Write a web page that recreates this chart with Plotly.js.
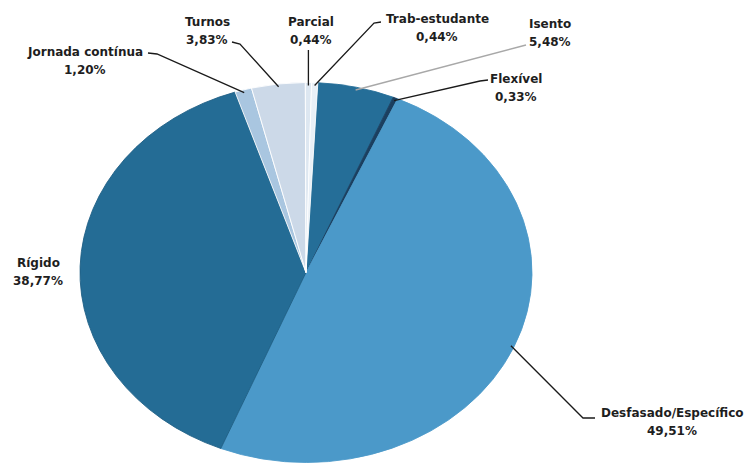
<!DOCTYPE html>
<html>
<head>
<meta charset="utf-8">
<script src="https://cdn.plot.ly/plotly-3.0.1.min.js"></script>
<style>
  html, body { margin: 0; padding: 0; background: #ffffff; }
  #wrap { position: relative; width: 747px; height: 463px; overflow: hidden; }
  #pie { position: absolute; left: 0; top: 0; transform-origin: 0 0; }
  #labels { position: absolute; left: 0; top: 0; }
</style>
</head>
<body>
<div id="wrap">
  <div id="pie"></div>
  <div id="labels"></div>
</div>
<script>
// ---- data (clockwise from just right of 12 o'clock) ----
const categories = ["Isento", "Flexível", "Desfasado/Específico", "Rígido",
                    "Jornada contínua", "Turnos", "Parcial", "Trab-estudante"];
const shares = [5.48, 0.33, 49.51, 38.77, 1.20, 3.83, 0.44, 0.44];
const colors = ["#256e98", "#1b3f5f", "#4b99c9", "#246c95",
                "#a9c6e0", "#ccd9e8", "#dde7f1", "#e9f0f7"];
const borderColors = ["#256e98", "#1b3f5f", "#4b99c9", "#1f5f85",
                      "#ffffff", "#ffffff", "#ffffff", "#ffffff"];

// ---- geometry of the (elliptical) pie on the page ----
const W = 747, H = 463;
const CX = 306, CY = 272.5, RX = 226, RY = 190;
const SX = RX / RY;             // horizontal stretch
const START = 3;                // degrees clockwise from 12 o'clock

// pie layer: drawn circular then stretched horizontally
const W1 = Math.round(W / SX);
const cx1 = CX / SX;
const pieDiv = document.getElementById('pie');
pieDiv.style.width = W1 + 'px';
pieDiv.style.height = H + 'px';
pieDiv.style.transform = 'scaleX(' + SX + ')';

Plotly.newPlot(pieDiv, [{
  type: 'pie',
  labels: categories,
  values: shares,
  sort: false,
  direction: 'clockwise',
  rotation: START,
  textinfo: 'none',
  hoverinfo: 'none',
  marker: { colors: colors, line: { color: borderColors, width: 0.8 } },
  domain: { x: [(cx1 - RY) / W1, (cx1 + RY) / W1], y: [(H - CY - RY) / H, (H - CY + RY) / H] }
}], {
  width: W1, height: H,
  margin: { l: 0, r: 0, t: 0, b: 0 },
  showlegend: false,
  paper_bgcolor: 'rgba(0,0,0,0)'
}, { staticPlot: true });

// ---- label layer ----
const total = shares.reduce((a, b) => a + b, 0);
const mids = [];
let acc = START;
shares.forEach(v => { const span = v / total * 360; mids.push(acc + span / 2); acc += span; });
function edge(i, f) {
  const a = mids[i] * Math.PI / 180;
  return [CX + f * RX * Math.sin(a), CY - f * RY * Math.cos(a)];
}
function pct(v) { return v.toFixed(2).replace('.', ',') + '%'; }

// label positions (name line) and leader start/elbow points, per category
const labelPos = [[550, 24], [516, 79], [672, 413], [38, 263], [85, 52], [207, 22], [311, 22], [437, 19]];
const leaderPts = [
  [[526, 45]],
  [[488, 80], [480, 81]],
  [[595, 418], [583, 418]],
  null,
  [[148, 53], [157, 54]],
  [[232, 42], [240, 44]],
  null,
  [[381, 22], [374, 23]]
];
const leaderColor = ["#a8a8a8", "#1a1a1a", "#1a1a1a", null, "#1a1a1a", "#1a1a1a", "#1a1a1a", "#1a1a1a"];

const font = { family: 'DejaVu Sans, Verdana, sans-serif', size: 12, color: '#1e1e1e', weight: 'bold' };
const annotations = [];
const shapes = [];
categories.forEach((c, i) => {
  const [x, y] = labelPos[i];
  annotations.push({ x: x, y: y, xref: 'x', yref: 'y', text: '<b>' + c + '</b>', showarrow: false, font: font, xanchor: 'center', yanchor: 'middle' });
  annotations.push({ x: x, y: y + 18, xref: 'x', yref: 'y', text: '<b>' + pct(shares[i]) + '</b>', showarrow: false, font: font, xanchor: 'center', yanchor: 'middle' });
  let pts = leaderPts[i];
  const e = edge(i, 0.985);
  if (i === 6) pts = [[e[0], 50]];
  if (pts) {
    let d = 'M ' + pts[0][0] + ' ' + pts[0][1];
    for (let k = 1; k < pts.length; k++) d += ' L ' + pts[k][0] + ' ' + pts[k][1];
    d += ' L ' + e[0].toFixed(1) + ' ' + e[1].toFixed(1);
    shapes.push({ type: 'path', xref: 'x', yref: 'y', path: d, line: { color: leaderColor[i], width: 1.3 } });
  }
});

Plotly.newPlot('labels', [], {
  width: W, height: H,
  margin: { l: 0, r: 0, t: 0, b: 0 },
  paper_bgcolor: 'rgba(0,0,0,0)',
  plot_bgcolor: 'rgba(0,0,0,0)',
  xaxis: { range: [0, W], visible: false, fixedrange: true },
  yaxis: { range: [H, 0], visible: false, fixedrange: true },
  showlegend: false,
  annotations: annotations,
  shapes: shapes
}, { staticPlot: true });
</script>
</body>
</html>
